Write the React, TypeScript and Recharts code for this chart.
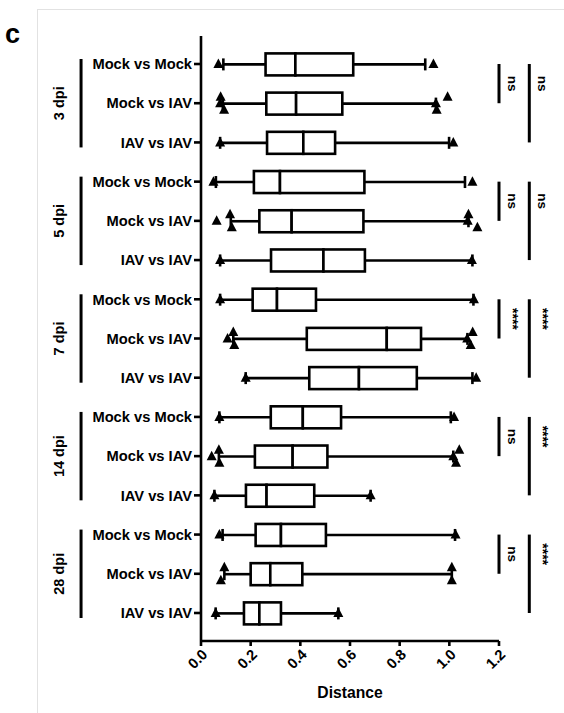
import React from 'react';
import { ComposedChart, Bar, Scatter, XAxis, YAxis, ReferenceLine, Label } from 'recharts';

const timepoints = ['3 dpi', '5 dpi', '7 dpi', '14 dpi', '28 dpi'];
const comparisons = ['Mock vs Mock', 'Mock vs IAV', 'IAV vs IAV'];

// 15 rows: each timepoint x each comparison, top to bottom
const whiskerLow = [0.09, 0.088, 0.077, 0.06, 0.12, 0.077, 0.077, 0.13, 0.18, 0.074, 0.072, 0.054, 0.087, 0.094, 0.059];
const q1 = [0.26, 0.263, 0.266, 0.213, 0.235, 0.282, 0.208, 0.426, 0.436, 0.281, 0.217, 0.181, 0.22, 0.2, 0.173];
const median = [0.38, 0.383, 0.412, 0.318, 0.365, 0.493, 0.306, 0.748, 0.636, 0.41, 0.369, 0.264, 0.322, 0.279, 0.235];
const q3 = [0.613, 0.569, 0.54, 0.658, 0.654, 0.66, 0.463, 0.886, 0.869, 0.564, 0.509, 0.456, 0.503, 0.408, 0.322];
const whiskerHigh = [0.903, 0.946, 0.999, 1.063, 1.077, 1.093, 1.097, 1.073, 1.093, 1.006, 1.016, 0.683, 1.023, 1.01, 0.553];

// individual points beyond/at whiskers: [row, value, vertical jitter (-1 up, 0, +1 down)]
const extremes: [number, number, number][] = [
  [0, 0.07, 0], [0, 0.936, 0],
  [1, 0.079, -1], [1, 0.077, 0], [1, 0.093, 1], [1, 0.993, -1], [1, 0.946, 0], [1, 0.949, 1],
  [2, 0.077, 0], [2, 1.016, 0],
  [3, 0.05, 0], [3, 1.093, 0],
  [4, 0.063, 0], [4, 0.117, -1], [4, 0.124, 1], [4, 1.077, -1], [4, 1.074, 0], [4, 1.113, 1],
  [5, 0.077, 0], [5, 1.091, 0],
  [6, 0.077, 0], [6, 1.099, 0],
  [7, 0.107, 0], [7, 0.13, -1], [7, 0.134, 1], [7, 1.094, -1], [7, 1.072, 0], [7, 1.086, 1],
  [8, 0.18, 0], [8, 1.108, 0],
  [9, 0.074, 0], [9, 1.019, 0],
  [10, 0.043, 0], [10, 0.072, -1], [10, 0.074, 1], [10, 1.04, -1], [10, 1.016, 0], [10, 1.027, 1],
  [11, 0.054, 0], [11, 0.683, 0],
  [12, 0.074, 0], [12, 1.025, 0],
  [13, 0.094, -1], [13, 0.08, 1], [13, 1.01, -1], [13, 1.01, 1],
  [14, 0.059, 0], [14, 0.553, 0],
];

const innerSig = ['ns', 'ns', '****', 'ns', 'ns'];
const outerSig = ['ns', 'ns', '****', '****', '****'];

const xTicks = [0, 0.2, 0.4, 0.6, 0.8, 1.0, 1.2];

const groupLineX = -0.483;
const innerBracketX = 1.2;
const outerBracketX = 1.322;

const FONT = '"Liberation Sans", Arial, Helvetica, sans-serif';
const LW = 2.6;

const rowIds: string[] = [];
const rowNames: Record<string, string> = {};
timepoints.forEach((t) =>
  comparisons.forEach((c) => {
    const id = `${t}|${c}`;
    rowIds.push(id);
    rowNames[id] = c;
  })
);

const data = rowIds.map((id, i) => ({
  id,
  base: whiskerLow[i],
  lw: q1[i] - whiskerLow[i],
  b1: median[i] - q1[i],
  b2: q3[i] - median[i],
  uw: whiskerHigh[i] - q3[i],
}));

const points = extremes.map(([r, v, off]) => ({ id: rowIds[r], v, off }));

const CAP = 12;

const LowWhisker = (p: any) => {
  const { x, y, width, height } = p;
  const cy = y + height / 2;
  return (
    <g>
      <line x1={x} y1={cy} x2={x + width} y2={cy} stroke="#000" strokeWidth={LW} />
      <line x1={x} y1={cy - CAP / 2} x2={x} y2={cy + CAP / 2} stroke="#000" strokeWidth={LW} />
    </g>
  );
};
const HighWhisker = (p: any) => {
  const { x, y, width, height } = p;
  const cy = y + height / 2;
  return (
    <g>
      <line x1={x} y1={cy} x2={x + width} y2={cy} stroke="#000" strokeWidth={LW} />
      <line x1={x + width} y1={cy - CAP / 2} x2={x + width} y2={cy + CAP / 2} stroke="#000" strokeWidth={LW} />
    </g>
  );
};
const BoxHalf = (p: any) => {
  const { x, y, width, height } = p;
  return <rect x={x} y={y} width={width} height={height} fill="#fff" stroke="#000" strokeWidth={LW} />;
};
const Triangle = (p: any) => {
  const { cx, cy, payload } = p;
  if (cx == null || cy == null) return <g />;
  const yy = cy + (payload?.off || 0) * 6.5;
  return <polygon points={`${cx},${yy - 5.5} ${cx - 5},${yy + 4} ${cx + 5},${yy + 4}`} fill="#000" />;
};

const groupShape = (label: string) => (p: any) => {
  const { x1, y1, x2, y2 } = p;
  const top = Math.min(y1, y2) - 5;
  const bot = Math.max(y1, y2) + 5;
  const tx = x1 - 17;
  const ty = (top + bot) / 2;
  return (
    <g>
      <line x1={x1} y1={top} x2={x2} y2={bot} stroke="#000" strokeWidth={3} />
      <text
        x={tx}
        y={ty}
        transform={`rotate(-90, ${tx}, ${ty})`}
        textAnchor="middle"
        fontFamily={FONT}
        fontWeight="bold"
        fontSize={14.5}
        fill="#000"
      >
        {label}
      </text>
    </g>
  );
};

const sigShape = (label: string, outer: boolean) => (p: any) => {
  const { x1, y1, x2, y2 } = p;
  const top = Math.min(y1, y2);
  const bot = Math.max(y1, y2);
  const tx = x1 + 8.5;
  const ty = outer ? top + (bot - top) / 4 : (top + bot) / 2;
  const isStar = label.startsWith('*');
  return (
    <g>
      <line x1={x1} y1={top} x2={x2} y2={bot} stroke="#000" strokeWidth={3} />
      <text
        x={tx}
        y={ty}
        transform={`rotate(90, ${tx}, ${ty})`}
        textAnchor="middle"
        fontFamily={FONT}
        fontWeight="bold"
        fontSize={isStar ? 14 : 13.5}
        fill="#000"
      >
        {label}
      </text>
    </g>
  );
};

export default function App() {
  return (
    <div style={{ position: 'absolute', left: 0, top: 0, width: 564, height: 713, background: '#fff', fontFamily: FONT }}>
      <div style={{ position: 'absolute', left: 37, top: 9, width: 527, height: 704, borderTop: '1px solid #e2e2e2', borderLeft: '1px solid #e2e2e2' }} />
      <div style={{ position: 'absolute', left: 5, top: 19, fontSize: 27, lineHeight: '31px', fontWeight: 'bold', color: '#000', fontFamily: FONT }}>c</div>
      <div style={{ position: 'absolute', left: 0, top: 0 }}>
        <ComposedChart
          layout="vertical"
          width={564}
          height={713}
          data={data}
          margin={{ top: 36, right: 65, bottom: 0, left: 0 }}
        >
          <XAxis
            type="number"
            domain={[0, 1.2]}
            ticks={xTicks}
            allowDataOverflow
            tickFormatter={(v: number) => v.toFixed(1)}
            height={72}
            axisLine={{ stroke: '#000', strokeWidth: LW }}
            tickLine={{ stroke: '#000', strokeWidth: LW }}
            tickSize={5}
            tickMargin={2}
            angle={-45}
            textAnchor="end"
            tick={{ fill: '#000', fontSize: 14.7, fontWeight: 'bold', fontFamily: FONT }}
            interval={0}
          >
            <Label
              value="Distance"
              position="insideBottom"
              offset={15}
              style={{ fill: '#000', fontSize: 15.7, fontWeight: 'bold', fontFamily: FONT }}
            />
          </XAxis>
          <YAxis
            type="category"
            dataKey="id"
            width={201}
            allowDuplicatedCategory={false}
            interval={0}
            padding={{ top: 8.4, bottom: 8.4 }}
            tickFormatter={(id: string) => rowNames[id] ?? id}
            axisLine={{ stroke: '#000', strokeWidth: LW }}
            tickLine={{ stroke: '#000', strokeWidth: LW }}
            tickSize={7}
            tickMargin={2}
            tick={{ fill: '#000', fontSize: 14.7, fontWeight: 'bold', fontFamily: FONT }}
          />
          <Bar dataKey="base" stackId="box" barSize={22} fill="transparent" shape={() => <g />} isAnimationActive={false} />
          <Bar dataKey="lw" stackId="box" barSize={22} shape={LowWhisker} isAnimationActive={false} />
          <Bar dataKey="b1" stackId="box" barSize={22} shape={BoxHalf} isAnimationActive={false} />
          <Bar dataKey="b2" stackId="box" barSize={22} shape={BoxHalf} isAnimationActive={false} />
          <Bar dataKey="uw" stackId="box" barSize={22} shape={HighWhisker} isAnimationActive={false} />
          <Scatter data={points} dataKey="v" shape={Triangle} isAnimationActive={false} />
          {timepoints.map((t, ti) => (
            <ReferenceLine
              key={`g-${t}`}
              ifOverflow="visible"
              segment={[
                { x: groupLineX, y: rowIds[ti * 3] },
                { x: groupLineX, y: rowIds[ti * 3 + 2] },
              ]}
              shape={groupShape(t)}
            />
          ))}
          {timepoints.map((t, ti) => (
            <ReferenceLine
              key={`in-${t}`}
              ifOverflow="visible"
              segment={[
                { x: innerBracketX, y: rowIds[ti * 3] },
                { x: innerBracketX, y: rowIds[ti * 3 + 1] },
              ]}
              shape={sigShape(innerSig[ti], false)}
            />
          ))}
          {timepoints.map((t, ti) => (
            <ReferenceLine
              key={`out-${t}`}
              ifOverflow="visible"
              segment={[
                { x: outerBracketX, y: rowIds[ti * 3] },
                { x: outerBracketX, y: rowIds[ti * 3 + 2] },
              ]}
              shape={sigShape(outerSig[ti], true)}
            />
          ))}
        </ComposedChart>
      </div>
    </div>
  );
}
